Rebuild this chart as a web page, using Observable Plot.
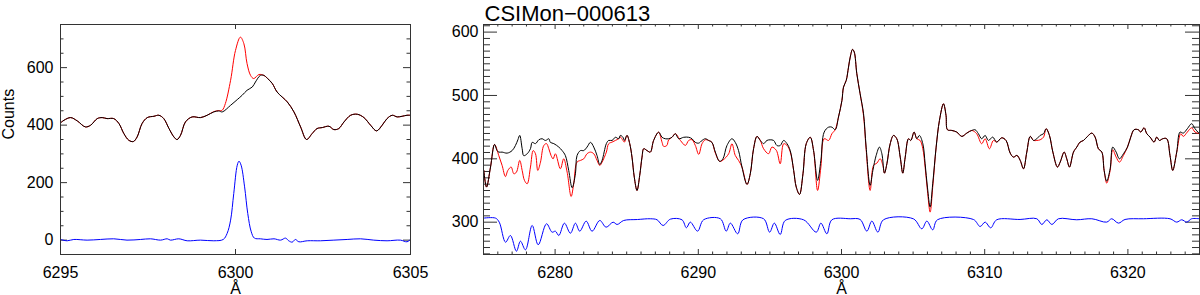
<!DOCTYPE html>
<html><head><meta charset="utf-8">
<script src="https://cdn.jsdelivr.net/npm/d3@7"></script>
<script src="https://cdn.jsdelivr.net/npm/@observablehq/plot@0.6"></script>
<style>
body{margin:0;background:#fff;}
#wrap{position:relative;width:1200px;height:295px;overflow:hidden;background:#fff;font-family:"Liberation Sans",Arial,Helvetica,sans-serif;}
#left{position:absolute;left:0;top:0;z-index:2;}
#right{position:absolute;left:420px;top:0;z-index:1;}
</style></head>
<body><div id="wrap"><div id="left"></div><div id="right"></div></div>
<script>
// ---------------- data: left panel (6295-6305 Å) ----------------
const leftTitleX = "Å";
const leftYLabel = "Counts";
const leftXTicks = [6295, 6300, 6305];
const leftYTicks = [0, 200, 400, 600];

const lBlackW = [6295.00,6295.10,6295.29,6295.48,6295.71,6295.86,6296.05,6296.19,6296.33,6296.52,6296.67,6296.81,6296.95,6297.08,6297.19,6297.33,6297.48,6297.67,6297.81,6297.95,6298.10,6298.24,6298.33,6298.43,6298.57,6298.76,6299.00,6299.19,6299.38,6299.52,6299.62,6299.86,6300.05,6300.19,6300.33,6300.48,6300.57,6300.71,6300.81,6300.91,6301.05,6301.19,6301.48,6301.67,6301.86,6302.03,6302.19,6302.33,6302.48,6302.67,6302.81,6302.95,6303.10,6303.29,6303.48,6303.67,6303.86,6304.03,6304.19,6304.33,6304.48,6304.62,6304.76,6304.90,6305.00];
const lBlackV = [407.7,417,426.2,414.6,393.8,399.6,422.7,426.2,422.7,422.7,405.4,370.6,347.5,342.8,359,405.4,426.2,430.8,434.3,422.7,388,359,349.8,364.8,411.1,428.5,426.2,434.3,445.9,449.4,445.9,469,488.8,503.8,521.2,532.7,550,573,573,563,545,515,480.6,445.9,393.7,350,370.6,388,391.5,396.1,384.5,388,411.1,434.3,437.8,426.2,399.6,379.9,399.6,422.7,434.3,428.5,430.8,434.3,434.3];

const lRedW = [6295.00,6295.10,6295.29,6295.48,6295.71,6295.86,6296.05,6296.19,6296.33,6296.52,6296.67,6296.81,6296.95,6297.08,6297.19,6297.33,6297.48,6297.67,6297.81,6297.95,6298.10,6298.24,6298.33,6298.43,6298.57,6298.76,6299.00,6299.19,6299.38,6299.52,6299.62,6299.71,6299.86,6300.00,6300.14,6300.24,6300.33,6300.43,6300.52,6300.67,6300.81,6300.91,6301.05,6301.19,6301.48,6301.67,6301.86,6302.03,6302.19,6302.33,6302.48,6302.67,6302.81,6302.95,6303.10,6303.29,6303.48,6303.67,6303.86,6304.03,6304.19,6304.33,6304.48,6304.62,6304.76,6304.90,6305.00];
const lRedV = [407.7,417,426.2,414.6,393.8,399.6,422.7,426.2,422.7,422.7,405.4,370.6,347.5,342.8,359,405.4,426.2,430.8,434.3,422.7,388,359,349.8,364.8,411.1,428.5,426.2,434.3,447,450.5,452,475,556,660,706,683,614,573,562,576,573,563,545,515,480.6,445.9,393.7,350,370.6,388,391.5,396.1,384.5,388,411.1,434.3,437.8,426.2,399.6,379.9,399.6,422.7,434.3,428.5,430.8,434.3,434.3];

const lBlueW = [6295.00,6295.19,6295.38,6295.76,6296.14,6296.52,6296.90,6297.29,6297.57,6297.86,6298.05,6298.14,6298.38,6298.62,6299.00,6299.38,6299.65,6299.76,6299.86,6299.95,6300.05,6300.10,6300.16,6300.26,6300.35,6300.45,6300.54,6300.71,6300.90,6301.10,6301.29,6301.43,6301.52,6301.62,6301.71,6301.81,6302.05,6302.43,6302.81,6303.19,6303.57,6303.95,6304.33,6304.71,6304.90,6305.00];
const lBlueV = [2.3,-2.3,2.3,0,2.3,4.6,0,2.3,4.6,0,4.6,0,4.6,-2.3,0,-2.3,2.3,23.2,69.5,162,260.6,274.5,260.6,185.3,92.7,29,7,4.6,2.3,4.6,0,7,-2.3,-7,2.3,-5.8,-2.3,-2.3,0,2.3,4.6,0,-2.3,0,-5.8,2.3];

// ---------------- data: right panel (6275-6325 Å) ----------------
const rightTitle = "CSIMon−000613";
const rightXTicks = [6280, 6290, 6300, 6310, 6320];
const rightYTicks = [300, 400, 500, 600];

const rBlackW = [6275.02,6275.21,6275.49,6275.77,6275.95,6276.07,6276.30,6276.65,6277.00,6277.23,6277.40,6277.53,6277.70,6277.81,6278.05,6278.28,6278.40,6278.63,6278.86,6279.09,6279.33,6279.56,6279.67,6279.91,6280.26,6280.49,6280.72,6280.95,6281.19,6281.42,6281.53,6281.77,6282.00,6282.23,6282.47,6282.70,6282.93,6283.12,6283.28,6283.58,6283.74,6283.98,6284.21,6284.44,6284.56,6284.74,6284.84,6285.02,6285.21,6285.37,6285.53,6285.72,6285.91,6286.07,6286.19,6286.42,6286.65,6286.88,6287.23,6287.47,6287.70,6287.93,6288.16,6288.40,6288.63,6288.98,6289.33,6289.56,6289.79,6290.03,6290.26,6290.49,6290.72,6290.95,6291.19,6291.49,6291.72,6292.00,6292.35,6292.58,6292.81,6293.05,6293.40,6293.63,6293.86,6294.10,6294.33,6294.56,6294.79,6295.02,6295.26,6295.49,6295.72,6295.96,6296.19,6296.42,6296.66,6296.84,6297.07,6297.31,6297.54,6297.82,6298.05,6298.33,6298.56,6298.79,6299.10,6299.33,6299.56,6299.79,6300.03,6300.14,6300.33,6300.49,6300.61,6300.77,6300.89,6301.07,6301.30,6301.54,6301.72,6302.00,6302.19,6302.42,6302.65,6302.82,6303.00,6303.17,6303.40,6303.63,6303.86,6304.10,6304.28,6304.45,6304.68,6304.84,6305.07,6305.26,6305.44,6305.68,6305.84,6306.00,6306.19,6306.37,6306.61,6306.84,6307.12,6307.30,6307.40,6307.70,6308.05,6308.40,6308.75,6309.10,6309.33,6309.56,6309.79,6310.03,6310.26,6310.56,6310.84,6311.19,6311.49,6311.78,6312.01,6312.25,6312.48,6312.71,6312.94,6313.18,6313.41,6313.64,6313.87,6314.11,6314.29,6314.52,6314.76,6315.08,6315.27,6315.55,6315.73,6315.92,6316.20,6316.43,6316.66,6316.90,6317.18,6317.48,6317.71,6317.94,6318.18,6318.34,6318.52,6318.76,6318.94,6319.18,6319.41,6319.69,6319.97,6320.20,6320.43,6320.73,6320.90,6321.13,6321.32,6321.55,6321.83,6322.01,6322.20,6322.43,6322.71,6322.94,6323.13,6323.41,6323.64,6323.87,6324.15,6324.45,6324.69,6324.99];
const rBlackV = [381.7,355.4,387,422.7,413,410.6,410.6,409,413,421,430,437,416,405,408,416,426,424,430,431.7,429,431.7,426,424,418.5,413,405,381.7,354.3,376.4,405,413,413,418.5,426,418.5,405,391,397.5,424,429,429,434,431.7,437,434,429,437,424,402.7,371,350,374,402.7,416,413,410.6,429,442,434,431.7,431.7,434,439.6,431.7,434,434,431.7,426,424.8,429,431.7,429,426,410.6,396,400,421,431.7,426,413,387,359.6,376.4,416,435.4,429,424,429,430,429,421,421,429,424,413,381.7,355.4,343.8,376.4,424,434,413,365.9,397.5,442.2,450,450,446,466,492,513.2,523.7,544.8,560.6,572.7,568.5,534.3,502.7,471.1,418.5,358,381.6,405.3,418.5,408,377.4,392.2,423.8,436.9,431.7,402.7,377.4,402.7,431.7,429,442.2,431.7,436.9,423.8,392.2,355.4,323.8,360.6,418.5,460.6,486.9,468.5,445.9,444.8,442.2,435.4,440.6,444.8,445.9,439.6,431.7,436.9,429,434.3,426.4,433.2,429,409,402.7,405.4,397.5,384.3,410.6,435.4,429,431.7,437,439.6,447.5,437,410.6,387,394.8,410.6,400,387,410.6,418.5,426.4,429,435.4,440.6,434.3,415.9,410.6,381.7,364.8,384.3,418.5,410.6,400,408,418.5,434.3,445.9,445.9,442.2,449,439.6,434.3,426.4,434.3,429,431.7,431.7,405.4,381.7,410.6,442.2,440.6,447.5,455.4,447.5,439.6];

const rRedW = [6275.02,6275.21,6275.49,6275.77,6276.07,6276.30,6276.53,6276.70,6276.93,6277.12,6277.30,6277.53,6277.70,6277.86,6278.05,6278.28,6278.47,6278.63,6278.79,6278.98,6279.21,6279.40,6279.56,6279.72,6279.86,6280.02,6280.37,6280.60,6280.84,6281.12,6281.30,6281.53,6281.77,6282.00,6282.23,6282.47,6282.70,6282.93,6283.12,6283.28,6283.58,6283.74,6283.98,6284.21,6284.44,6284.56,6284.74,6284.84,6285.02,6285.21,6285.37,6285.53,6285.72,6285.91,6286.07,6286.19,6286.42,6286.65,6286.88,6287.23,6287.47,6287.58,6287.80,6287.93,6288.16,6288.40,6288.75,6289.10,6289.33,6289.56,6289.79,6290.03,6290.26,6290.49,6290.72,6290.95,6291.19,6291.49,6291.72,6292.12,6292.35,6292.58,6292.81,6293.05,6293.40,6293.63,6293.86,6294.10,6294.33,6294.56,6294.91,6295.14,6295.45,6295.72,6295.96,6296.19,6296.42,6296.66,6296.84,6297.07,6297.31,6297.54,6297.82,6298.05,6298.33,6298.56,6298.79,6299.10,6299.33,6299.56,6299.79,6300.03,6300.14,6300.33,6300.49,6300.61,6300.77,6300.89,6301.07,6301.30,6301.54,6301.72,6302.00,6302.24,6302.47,6302.70,6302.89,6303.00,6303.17,6303.40,6303.63,6303.86,6304.10,6304.28,6304.45,6304.68,6304.84,6305.07,6305.26,6305.49,6305.68,6305.84,6306.00,6306.19,6306.37,6306.61,6306.84,6307.12,6307.30,6307.40,6307.70,6308.05,6308.40,6308.75,6309.10,6309.44,6309.79,6310.03,6310.33,6310.61,6310.84,6311.19,6311.49,6311.78,6312.01,6312.25,6312.48,6312.71,6312.94,6313.18,6313.41,6313.64,6313.87,6314.11,6314.29,6314.52,6314.76,6315.08,6315.27,6315.55,6315.73,6315.92,6316.20,6316.43,6316.66,6316.90,6317.18,6317.48,6317.71,6317.94,6318.18,6318.34,6318.52,6318.76,6318.94,6319.18,6319.41,6319.69,6319.97,6320.20,6320.43,6320.73,6320.90,6321.13,6321.32,6321.55,6321.83,6322.01,6322.20,6322.43,6322.71,6322.94,6323.13,6323.41,6323.69,6323.87,6324.15,6324.45,6324.69,6324.99];
const rRedV = [381.7,355.4,387,422.7,405,389.6,372,381.7,387,376.4,379,397.5,381.7,366,360.6,387,413,408,381.7,394.8,421,424,416,405,400,408,384.3,400,379,340.6,360.6,394.8,397.5,400,408,410.6,408,397.5,389.6,394.8,410.6,423.8,426.4,429,431.7,434.3,429,426.4,437,424,402.7,371,350,374,402.7,416,413,410.6,429,442,426,419.6,421,430,434,439.6,429,421.2,429,430.1,421.2,407,423.8,430.1,429,426,409,396,398,408,423.8,405.4,397.5,387,359.6,376.4,416,435.4,429,415.9,408,418.5,413.3,392.2,423.8,421.2,411,381.7,355.4,343.8,376.4,424,434,413,350.1,387,431.7,429,439.6,446,466,492,513.2,523.7,544.8,560.6,572.7,568.5,534.3,502.7,468,415,350.1,389.6,393.2,400.1,389.6,377.4,392.2,423.8,436.9,431.7,402.7,377.4,402.7,431.7,429,442.2,431.7,429,415.9,386.9,350.1,315.9,355.4,418.5,460.6,486.9,468.5,445.9,444.8,442.2,435.4,440.6,444.8,439.6,423.8,431.7,415.9,429,426.4,433.2,429,409,402.7,405.4,397.5,384.3,410.6,435.4,429,429,430,434.3,447.5,437,410.6,387,394.8,410.6,400,387,410.6,418.5,426.4,429,435.4,440.6,434.3,415.9,410.6,381.7,361.7,381.7,414.3,402.7,394.8,405.4,418.5,434.3,445.9,445.9,442.2,449,439.6,434.3,426.4,434.3,429,431.7,431.7,405.4,381.7,410.6,439.6,435.4,442.2,449,442.2,439.6];

const rBlueW = [6275.00,6275.84,6276.10,6276.54,6276.88,6277.30,6277.58,6277.93,6278.40,6278.82,6279.40,6279.79,6280.02,6280.26,6280.65,6281.07,6281.42,6281.72,6282.17,6282.58,6283.12,6283.56,6284.05,6284.33,6284.79,6285.75,6286.65,6287.12,6287.54,6288.05,6288.86,6289.17,6289.44,6289.95,6290.37,6291.54,6291.95,6292.24,6292.75,6293.12,6294.56,6294.98,6295.31,6295.72,6296.07,6297.35,6298.24,6298.56,6298.98,6299.33,6300.61,6301.30,6301.77,6302.12,6302.54,6302.93,6305.02,6305.61,6305.96,6306.37,6306.70,6309.21,6309.68,6310.03,6310.42,6310.84,6312.47,6313.64,6313.99,6314.34,6314.69,6315.15,6316.43,6317.48,6318.52,6318.87,6319.34,6319.80,6321.08,6322.94,6323.41,6323.76,6324.11,6324.45,6325.00];
const rBlueV = [306.4,306.4,300,268.4,279,254.2,270,256.4,294.8,264.3,297.5,284.2,285.8,279,298.4,282.6,298.4,285.8,301.6,285.8,302.7,292.1,300,296.4,302.7,304.2,305.4,303.8,294.8,304.8,303.8,291.2,300.1,285.9,303.8,305.4,285.9,298.5,281.7,303.8,305.4,284.3,298.5,280.6,302.7,303.8,284.3,298.5,281.7,303.8,305.4,304.3,285.9,301.7,284.3,303.8,305.3,289.6,301.7,288,303.8,304.3,293.2,300.1,291.1,303.8,304.3,305.4,296.4,303.8,296.4,305.4,303.8,305.4,300.1,305.4,298.5,304.3,305.4,305.4,300.1,303.8,300.1,305.4,305.4];

// ---------------- helpers ----------------
const rows = (W, V) => W.map((w, i) => ({w, v: V[i]}));
const FONT = '"Liberation Sans", Arial, Helvetica, sans-serif';
const TICK = "#333";

function frameTicksY(values, len, fw) {
  return [
    Plot.tickY(values, {y: d => d, stroke: TICK, insetRight: fw - len}),
    Plot.tickY(values, {y: d => d, stroke: TICK, insetLeft: fw - len})
  ];
}
function frameTicksX(values, len, fh) {
  return [
    Plot.tickX(values, {x: d => d, stroke: TICK, insetTop: fh - len}),
    Plot.tickX(values, {x: d => d, stroke: TICK, insetBottom: fh - len})
  ];
}

// ---------------- left panel ----------------
{
  const W = 420, H = 295, mL = 60, mR = 10, mT = 24, mB = 41;
  const fw = W - mL - mR, fh = H - mT - mB;
  const yMinor = d3.range(50, 750, 50).filter(d => !leftYTicks.includes(d));
  const svg = Plot.plot({
    width: W, height: H, marginLeft: mL, marginRight: mR, marginTop: mT, marginBottom: mB,
    style: {fontFamily: FONT, fontSize: "16px", color: "#000", background: "transparent", overflow: "visible"},
    x: {domain: [6295, 6305]},
    y: {domain: [-50, 750]},
    marks: [
      ...frameTicksY(leftYTicks, 7, fw),
      ...frameTicksY(yMinor, 3.5, fw),
      ...frameTicksX(leftXTicks.slice(1, -1), 5, fh),
      Plot.axisX({ticks: leftXTicks, tickSize: 0, tickPadding: 12, tickFormat: d3.format("d"), label: null, fontSize: 16}),
      Plot.axisY({ticks: leftYTicks, tickSize: 0, tickPadding: 7, tickFormat: d3.format("d"), label: null, fontSize: 16}),
      Plot.line(rows(lRedW, lRedV), {x: "w", y: "v", stroke: "#ff0000", strokeWidth: 1, curve: "catmull-rom", clip: true}),
      Plot.line(rows(lBlackW, lBlackV), {x: "w", y: "v", stroke: "#000", strokeWidth: 1, curve: "catmull-rom", clip: true}),
      Plot.line(rows(lBlueW, lBlueV), {x: "w", y: "v", stroke: "#0000ff", strokeWidth: 1, curve: "catmull-rom", clip: true}),
      Plot.text([leftTitleX], {text: d => d, frameAnchor: "bottom", lineAnchor: "bottom", dy: 39, fontSize: 16, fill: "#000"}),
      Plot.text([leftYLabel], {text: d => d, frameAnchor: "left", rotate: -90, lineAnchor: "bottom", dx: -47, fontSize: 16, fill: "#000"}),
      Plot.frame({stroke: TICK})
    ]
  });
  document.getElementById("left").appendChild(svg);
}

// ---------------- right panel ----------------
{
  const W = 780, H = 295, mL = 63, mR = 1, mT = 24, mB = 41;
  const fw = W - mL - mR, fh = H - mT - mB;
  const yMinor = d3.range(250, 612, 10).filter(d => !rightYTicks.includes(d));
  const xMinor = d3.range(6276, 6325, 1).filter(d => !rightXTicks.includes(d));
  const svg = Plot.plot({
    width: W, height: H, marginLeft: mL, marginRight: mR, marginTop: mT, marginBottom: mB,
    style: {fontFamily: FONT, fontSize: "16px", color: "#000", background: "transparent", overflow: "visible"},
    x: {domain: [6275, 6325]},
    y: {domain: [249, 612]},
    marks: [
      ...frameTicksY(rightYTicks, 14, fw),
      ...frameTicksY(yMinor, 7, fw),
      ...frameTicksX(rightXTicks, 5, fh),
      ...frameTicksX(xMinor, 2.5, fh),
      Plot.axisX({ticks: rightXTicks, tickSize: 0, tickPadding: 12, tickFormat: d3.format("d"), label: null, fontSize: 16}),
      Plot.axisY({ticks: rightYTicks, tickSize: 0, tickPadding: 5, tickFormat: d3.format("d"), label: null, fontSize: 16}),
      Plot.line(rows(rRedW, rRedV), {x: "w", y: "v", stroke: "#ff0000", strokeWidth: 1, curve: "catmull-rom", clip: true}),
      Plot.line(rows(rBlackW, rBlackV), {x: "w", y: "v", stroke: "#000", strokeWidth: 1, curve: "catmull-rom", clip: true}),
      Plot.line(rows(rBlueW, rBlueV), {x: "w", y: "v", stroke: "#0000ff", strokeWidth: 1, curve: "catmull-rom", clip: true}),
      Plot.text([leftTitleX], {text: d => d, frameAnchor: "bottom", lineAnchor: "bottom", dy: 39, fontSize: 16, fill: "#000"}),
      Plot.text([rightTitle], {text: d => d, frameAnchor: "top-left", textAnchor: "start", lineAnchor: "bottom", dx: 1, dy: -4, fontSize: 22, fill: "#000"}),
      Plot.frame({stroke: TICK})
    ]
  });
  document.getElementById("right").appendChild(svg);
}
</script>
</body></html>
